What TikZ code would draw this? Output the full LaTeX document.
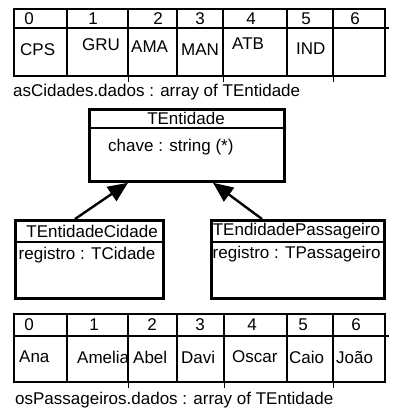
\documentclass[tikz,border=0pt]{standalone}
\usepackage{fontspec}
\setmainfont{Liberation Sans}
\usetikzlibrary{arrows.meta, positioning, calc}

\tikzset{
  cell/.style={line width=2.6pt},
  lbl/.style={font=\fontsize{17}{19}\selectfont, inner sep=0pt},
  classbox/.style={draw, line width=2.8pt, anchor=north west, inner sep=0pt},
  inherit/.style={line width=2.4pt, -{Triangle[length=20pt, width=17pt]}},
}

\begin{document}
\begin{tikzpicture}[x=1pt, y=-1pt]
  \useasboundingbox (0,0) rectangle (400,413);

  % asCidades array
  \draw[cell] (14,9) rectangle (385,76);
  \draw[cell] (14,28) -- (389,28);
  \foreach \x in {67,128,177,223,287,333}
    \draw[cell] (\x,9) -- (\x,76);
  \foreach \x in {128,223,333}
    \draw[thin] (\x,76) -- (\x,82);
  \foreach \i/\x in {0/29,1/93,2/158,3/200,4/251,5/306,6/355}
    \node[lbl] (cidIdx\i) at (\x,19) {\i};
  \foreach \i/\x/\y/\t in {0/20/50/CPS,1/82/45/GRU,2/131/47/AMA,3/181/50/MAN,4/232/44/ATB,5/296/49/IND}
    \node[lbl, anchor=west] (cid\i) at (\x,\y) {\t};
  \node[lbl, anchor=west] (cidCaption) at (13,92) {asCidades.dados : array of TEntidade};

  % classes
  \node[classbox, minimum width=195pt, minimum height=72pt] (entidade) at (88,108) {};
  \draw[line width=2.8pt] ([yshift=-20pt]entidade.north west) -- ([yshift=-20pt]entidade.north east);
  \node[lbl] (entidadeName) at (186,118) {TEntidade};
  \node[lbl, anchor=west] (entidadeAttr) at (108,147) {chave : string (*)};

  \node[classbox, minimum width=148pt, minimum height=78pt] (cidade) at (14,219) {};
  \draw[line width=2.8pt] ([yshift=-23pt]cidade.north west) -- ([yshift=-23pt]cidade.north east);
  \node[lbl, anchor=east] (cidadeName) at (158,231) {TEntidadeCidade};
  \node[lbl, anchor=west] (cidadeAttr) at (18.5,255) {registro : TCidade};

  \node[classbox, minimum width=173pt, minimum height=78pt] (passageiro) at (210,219) {};
  \draw[line width=2.8pt] ([yshift=-23pt]passageiro.north west) -- ([yshift=-23pt]passageiro.north east);
  \node[lbl] (passageiroName) at (296.5,231) {TEndidadePassageiro};
  \node[lbl, anchor=west] (passageiroAttr) at (212.5,254) {registro : TPassageiro};

  \draw[inherit] ([xshift=61pt]cidade.north west) -- ([xshift=40pt]entidade.south west);
  \draw[inherit] ([xshift=52pt]passageiro.north west) -- ([xshift=125pt]entidade.south west);

  % osPassageiros array
  \draw[cell] (14,314) rectangle (385,382);
  \draw[cell] (14,336) -- (389,336);
  \foreach \x in {67,128,177,224,287,333}
    \draw[cell] (\x,314) -- (\x,382);
  \foreach \x in {128,224,333}
    \draw[thin] (\x,382) -- (\x,388);
  \foreach \i/\x in {0/29,1/94,2/152,3/200,4/252,5/303,6/356}
    \node[lbl] (pasIdx\i) at (\x,325) {\i};
  \foreach \i/\x/\t in {0/19/Ana,1/77/Amelia,2/133/Abel,3/181/Davi,4/232/Oscar,5/289/Caio,6/336/João}
    \node[lbl, anchor=west] (pas\i) at (\x,357) {\t};
  \node[lbl, anchor=west] (pasCaption) at (15,400) {osPassageiros.dados : array of TEntidade};
\end{tikzpicture}
\end{document}
